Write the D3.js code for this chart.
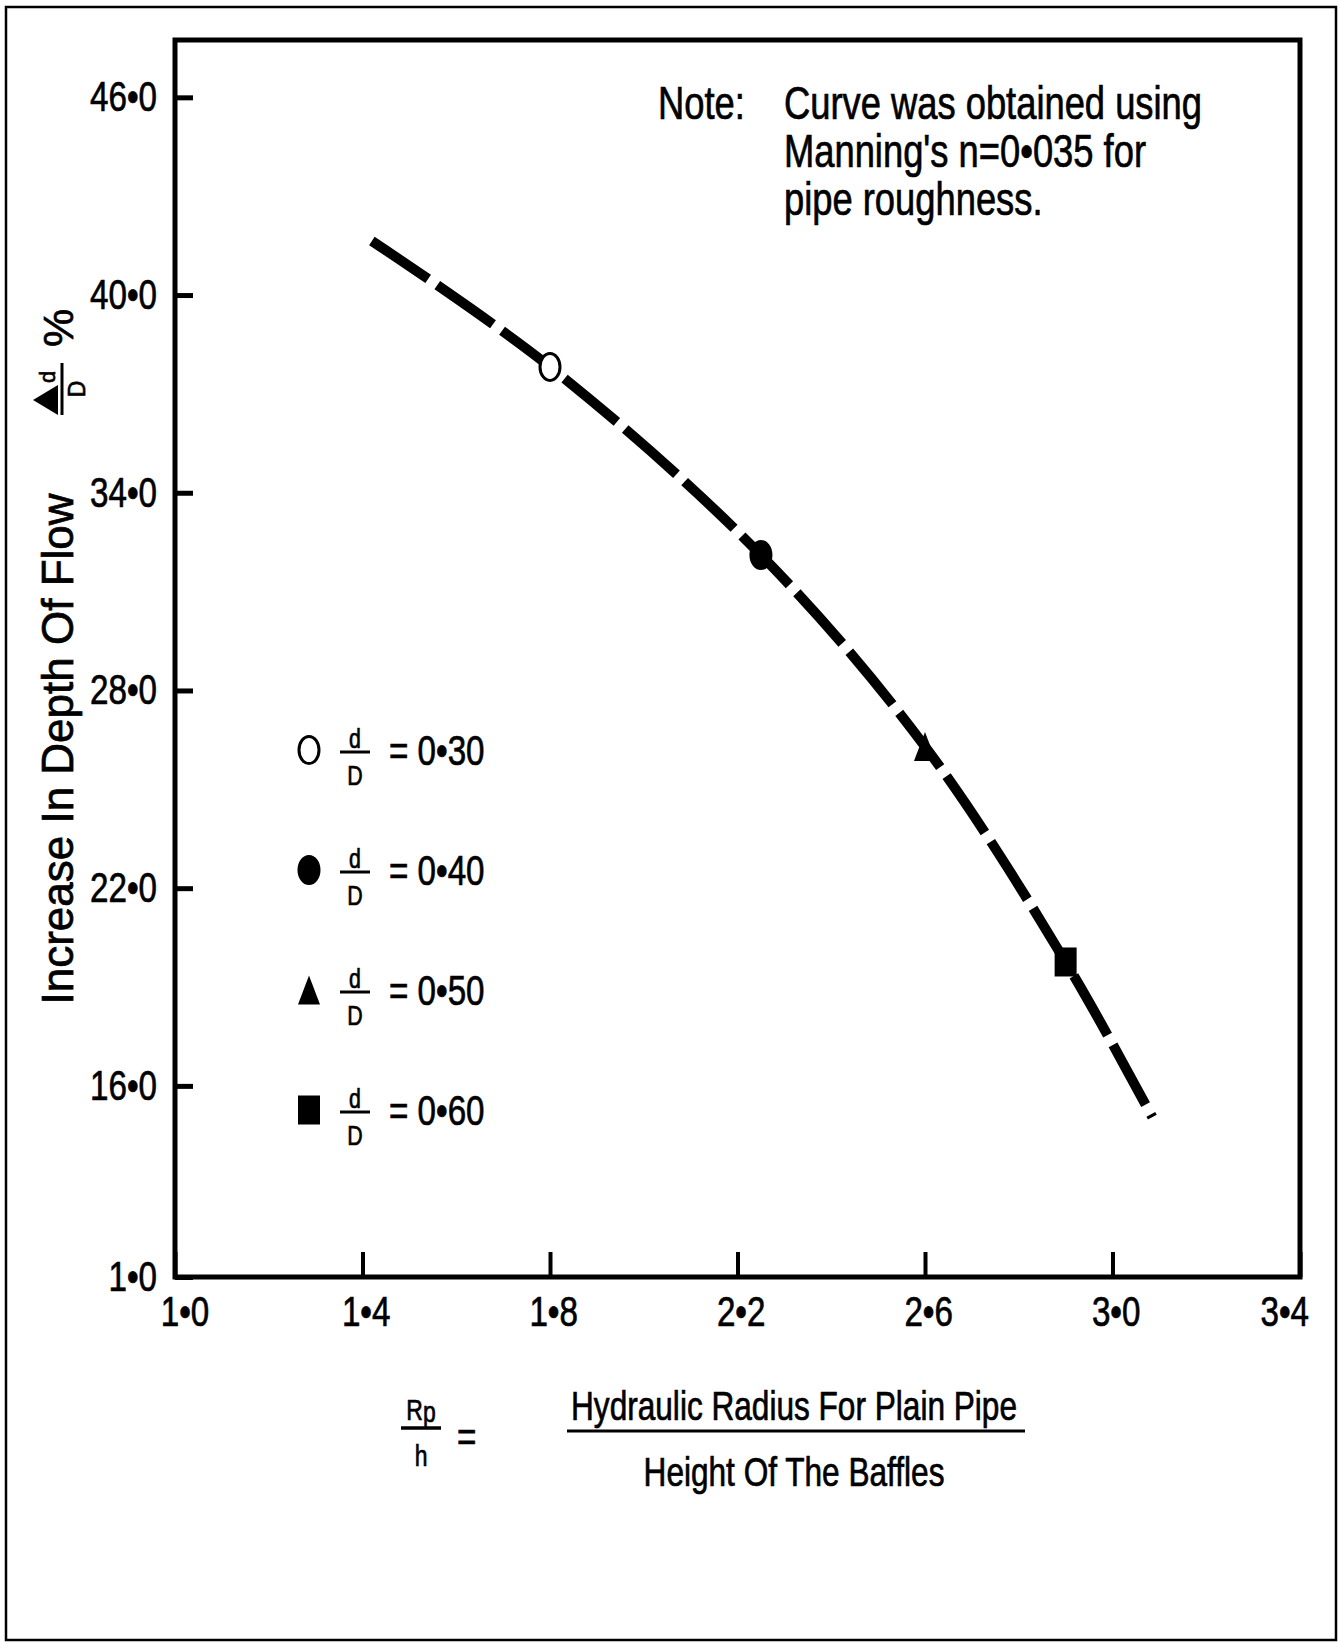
<!DOCTYPE html>
<html>
<head>
<meta charset="utf-8">
<script src="https://cdn.jsdelivr.net/npm/d3@7/dist/d3.min.js"></script>
<style>
  body { margin: 0; background: #fff; }
  svg text { fill: #000; stroke: #000; stroke-width: 0.7px; }
</style>
</head>
<body>
<div id="chart"></div>
<script>
const WIDTH = 1340;
const HEIGHT = 1643;
const FONT = '"Liberation Sans", Arial, sans-serif';
// no narrow face installed, so the condensed look is done with a horizontal squeeze
const SQUEEZE = 0.79;

// ---------------- data ----------------
const curveX = [1.42, 1.80, 2.25, 2.60, 2.90, 3.085];
const curveY = [41.64, 37.82, 32.11, 26.30, 19.76, 15.05];

const ratioLabels = ["0•30", "0•40", "0•50", "0•60"];
const markerShapes = ["openCircle", "circle", "triangle", "square"];
const markerX = [1.80, 2.25, 2.60, 2.90];
const markerY = [37.82, 32.11, 26.30, 19.76];

const xTicks = [1.0, 1.4, 1.8, 2.2, 2.6, 3.0, 3.4];
const xTickLabels = ["1•0", "1•4", "1•8", "2•2", "2•6", "3•0", "3•4"];
const yTicks = [10.2, 16, 22, 28, 34, 40, 46];
const yTickLabels = ["1•0", "16•0", "22•0", "28•0", "34•0", "40•0", "46•0"];

const noteLines = ["Curve was obtained using", "Manning's n=0•035 for", "pipe roughness."];

// ---------------- svg ----------------
const svg = d3.select("#chart")
    .append("svg")
    .attr("width", WIDTH)
    .attr("height", HEIGHT);

const plot = {left: 175, right: 1300, top: 40, bottom: 1277};

const x = d3.scaleLinear().domain([1.0, 3.4]).range([plot.left, plot.right]);
const y = d3.scaleLinear().domain([10.2, 47.74]).range([plot.bottom, plot.top]);

function narrowText(parent, px, py, str, size, anchor) {
    return parent.append("text")
        .attr("transform", `translate(${px},${py}) scale(${SQUEEZE},1)`)
        .attr("text-anchor", anchor || "start")
        .style("font-family", FONT)
        .style("font-size", size + "px")
        .text(str);
}

// outer border of the figure
svg.append("rect")
    .attr("x", 6).attr("y", 7)
    .attr("width", 1330).attr("height", 1633)
    .attr("fill", "none")
    .attr("stroke", "#000")
    .attr("stroke-width", 2.5);

// ---------------- axes ----------------
const yAxis = d3.axisLeft(y)
    .tickValues(yTicks)
    .tickFormat((d, i) => yTickLabels[i])
    .tickSizeInner(-18)
    .tickSizeOuter(0)
    .tickPadding(18);

const gy = svg.append("g")
    .attr("transform", `translate(${plot.left},0)`)
    .call(yAxis);
gy.select(".domain").remove();
gy.selectAll(".tick line").attr("stroke", "#000").attr("stroke-width", 5);
gy.selectAll(".tick text")
    .style("font-family", FONT)
    .style("font-size", "42px")
    .attr("x", -18 / SQUEEZE)
    .attr("transform", `scale(${SQUEEZE},1)`);

const xAxis = d3.axisBottom(x)
    .tickValues(xTicks)
    .tickFormat((d, i) => xTickLabels[i])
    .tickSizeInner(-25)
    .tickSizeOuter(0)
    .tickPadding(19);

const gx = svg.append("g")
    .attr("transform", `translate(0,${plot.bottom})`)
    .call(xAxis);
gx.select(".domain").remove();
gx.selectAll(".tick line").attr("stroke", "#000").attr("stroke-width", 4);
gx.selectAll(".tick text")
    .style("font-family", FONT)
    .style("font-size", "42px")
    .attr("transform", `scale(${SQUEEZE},1)`)
    .attr("dx", (d, i) => i === 0 ? 12 : (i === xTicks.length - 1 ? -20 : 4));

// plot frame
svg.append("rect")
    .attr("x", plot.left).attr("y", plot.top)
    .attr("width", plot.right - plot.left)
    .attr("height", plot.bottom - plot.top)
    .attr("fill", "none")
    .attr("stroke", "#000")
    .attr("stroke-width", 5);

// ---------------- curve ----------------
const line = d3.line()
    .x(d => x(d[0]))
    .y(d => y(d[1]))
    .curve(d3.curveCatmullRom.alpha(0.5));

svg.append("path")
    .datum(d3.zip(curveX, curveY))
    .attr("d", line)
    .attr("fill", "none")
    .attr("stroke", "#000")
    .attr("stroke-width", 10)
    .attr("stroke-dasharray", "68,11");

// ---------------- markers ----------------
function drawMarker(g, shape, cx, cy) {
    const w = 22, h = 29;
    if (shape === "openCircle" || shape === "circle") {
        g.append("ellipse")
            .attr("cx", cx).attr("cy", cy)
            .attr("rx", w / 2 - 1).attr("ry", h / 2 - 1)
            .attr("fill", shape === "circle" ? "#000" : "#fff")
            .attr("stroke", "#000")
            .attr("stroke-width", 3);
    } else if (shape === "triangle") {
        g.append("path")
            .attr("d", `M${cx - w / 2},${cy + h / 2}L${cx + w / 2},${cy + h / 2}L${cx},${cy - h / 2}Z`)
            .attr("fill", "#000");
    } else {
        g.append("rect")
            .attr("x", cx - w / 2).attr("y", cy - h / 2)
            .attr("width", w).attr("height", h)
            .attr("fill", "#000");
    }
}

const markerG = svg.append("g");
markerShapes.forEach((s, i) => drawMarker(markerG, s, x(markerX[i]), y(markerY[i])));

// ---------------- legend ----------------
const legend = svg.append("g");
ratioLabels.forEach((label, i) => {
    const cy = 750 + i * 120;
    drawMarker(legend, markerShapes[i], 309, cy);
    narrowText(legend, 355, cy - 2, "d", 27, "middle");
    legend.append("line")
        .attr("x1", 340).attr("x2", 370)
        .attr("y1", cy + 2).attr("y2", cy + 2)
        .attr("stroke", "#000").attr("stroke-width", 3);
    narrowText(legend, 355, cy + 35, "D", 27, "middle");
    narrowText(legend, 389, cy + 15, "= " + label, 42);
});

// ---------------- note ----------------
narrowText(svg, 658, 119, "Note:", 46);
noteLines.forEach((t, i) => narrowText(svg, 784, 119 + i * 48, t, 46));

// ---------------- y title ----------------
svg.append("text")
    .attr("transform", "translate(73,749) rotate(-90)")
    .attr("text-anchor", "middle")
    .style("font-family", FONT).style("font-size", "44px")
    .text("Increase In Depth Of Flow");

const yUnit = svg.append("g").attr("transform", "translate(62,415) rotate(-90)");
yUnit.append("line")
    .attr("x1", 0).attr("x2", 52).attr("y1", 0).attr("y2", 0)
    .attr("stroke", "#000").attr("stroke-width", 3);
yUnit.append("path")
    .attr("d", "M0,-4L30,-4L15,-29Z")
    .attr("fill", "#000");
yUnit.append("text")
    .attr("x", 32).attr("y", -7)
    .style("font-family", FONT).style("font-size", "22px")
    .text("d");
yUnit.append("text")
    .attr("x", 26).attr("y", 23)
    .attr("text-anchor", "middle")
    .style("font-family", FONT).style("font-size", "23px")
    .text("D");
yUnit.append("text")
    .attr("x", 68).attr("y", 11)
    .style("font-family", FONT).style("font-size", "43px")
    .text("%");

// ---------------- x title ----------------
const xTitle = svg.append("g");
const rp = narrowText(xTitle, 421, 1420, "R", 29, "middle");
rp.append("tspan").attr("dy", 2).text("p");
xTitle.append("line")
    .attr("x1", 401).attr("x2", 441).attr("y1", 1428).attr("y2", 1428)
    .attr("stroke", "#000").attr("stroke-width", 3.5);
narrowText(xTitle, 421, 1466, "h", 29, "middle");
narrowText(xTitle, 457, 1451, "=", 42);
narrowText(xTitle, 794, 1420, "Hydraulic Radius For Plain Pipe", 40, "middle");
xTitle.append("line")
    .attr("x1", 567).attr("x2", 1025).attr("y1", 1431).attr("y2", 1431)
    .attr("stroke", "#000").attr("stroke-width", 3);
narrowText(xTitle, 794, 1486, "Height Of The Baffles", 40, "middle");
</script>
</body>
</html>
